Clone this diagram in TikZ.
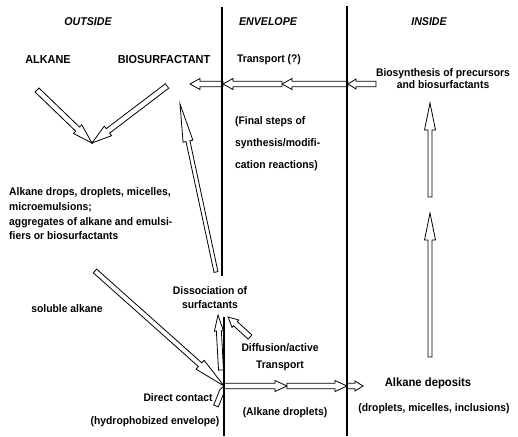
\documentclass[tikz,border=0pt]{standalone}
\usepackage{fontspec}
\setmainfont{Liberation Sans}[FakeStretch=0.94]
\usetikzlibrary{calc}
\tikzset{
  harrowstyle/.style={draw=black, line width=0.8pt, fill=white, line join=miter},
  envline/.style={line width=1.1pt},
  lbl/.style={inner sep=0pt, font=\bfseries\fontsize{11}{12}\selectfont},
  hdr/.style={inner sep=0pt, font=\bfseries\itshape\fontsize{11.3}{12}\selectfont},
  caps/.style={inner sep=0pt, font=\bfseries\fontsize{11.6}{12}\selectfont}
}
% #1 start, #2 end, #3 shaft half width, #4 head length, #5 head half width
\newcommand\harrow[5]{%
  \coordinate (hs) at (#1);
  \coordinate (he) at (#2);
  \coordinate (hb) at ($(he)!#4pt!(hs)$);
  \draw[harrowstyle] ($(hs)!#3pt!90:(he)$) -- ($(hb)!#3pt!-90:(hs)$) -- ($(hb)!#5pt!-90:(hs)$) -- (he) -- ($(hb)!#5pt!90:(hs)$) -- ($(hb)!#3pt!90:(hs)$) -- ($(hs)!#3pt!-90:(he)$) -- cycle;
}
\begin{document}
\begin{tikzpicture}[x=1pt,y=-1pt]
\useasboundingbox[fill=white] (0,0) rectangle (518,436);
% headers
\node[hdr] (outside) at (88,22) {OUTSIDE};
\node[hdr] (envelope) at (268,22) {ENVELOPE};
\node[hdr] (inside) at (429,22) {INSIDE};
% texts
\node[caps] (alkane) at (48,60) {ALKANE};
\node[caps] (biosurf) at (164,60) {BIOSURFACTANT};
\node[lbl] (transport) at (269,60) {Transport (?)};
\node[lbl, align=center, font=\bfseries\fontsize{11}{12}\selectfont] (biosyn) at (443,79) {Biosynthesis of precursors\\and biosurfactants};
\node[lbl, align=left, anchor=west, font=\bfseries\fontsize{11}{22}\selectfont] (final) at (235,144) {(Final steps of\\synthesis/modifi-\\cation reactions)};
\node[lbl, align=left, anchor=west, font=\bfseries\fontsize{11}{14.7}\selectfont] (drops) at (9,214) {Alkane drops, droplets, micelles,\\microemulsions;\\aggregates of alkane and emulsi-\\fiers or biosurfactants};
\node[lbl] (soluble) at (67,309) {soluble alkane};
\node[lbl, align=center, font=\bfseries\fontsize{11}{14}\selectfont] (dissoc) at (210,298) {Dissociation of\\surfactants};
\node[lbl, align=center, font=\bfseries\fontsize{11}{17}\selectfont] (diffusion) at (280,357.5) {Diffusion/active\\Transport};
\node[lbl] (direct) at (178,398) {Direct contact};
\node[lbl] (hydro) at (155,422) {(hydrophobized envelope)};
\node[lbl] (aldrop) at (285,413) {(Alkane droplets)};
\node[lbl, font=\bfseries\fontsize{12}{13}\selectfont] (deposits) at (428,383) {Alkane deposits};
\node[lbl] (depdetail) at (434,409) {(droplets, micelles, inclusions)};
% coordinates
\coordinate (vtip) at (92,143);
\coordinate (junc) at (224,386);
% V arrows
\harrow{37,90}{vtip}{2.8}{20}{6}
\harrow{167,86}{vtip}{2.8}{20}{6}
% top chain
\harrow{376,84}{348,84}{2.8}{8}{5}
\harrow{348,84}{282,84}{2.8}{10}{5.5}
\harrow{282,84}{223,84}{2.8}{10}{5.5}
\harrow{223,84}{190,84}{2.8}{10}{5.5}
% long arrow to biosurfactant
\harrow{216,272}{180,104}{2}{38}{5}
% inside up arrows
\harrow{430,197}{430,103}{2}{27}{5.5}
\harrow{430,357}{430,213}{2}{27}{5.5}
% soluble alkane
\harrow{95,271}{junc}{2.5}{32}{6}
% dissociation arrows
\harrow{221,370}{218,315}{2.5}{16}{4.5}
\harrow{250,337}{228,317}{2.8}{10}{5}
% direct contact
\harrow{216,406}{junc}{2.5}{5}{2.5}
% bottom chain
\harrow{junc}{287,386}{2.8}{12}{5.5}
\harrow{287,386}{347,386}{2.8}{12}{5.5}
\harrow{347,386}{363,386}{2.8}{8}{5}
% envelope lines
\draw[envline] (222,7) -- (222,276);
\draw[envline] (224,317) -- (224,436);
\draw[envline] (347,6) -- (347,436);
\end{tikzpicture}
\end{document}
